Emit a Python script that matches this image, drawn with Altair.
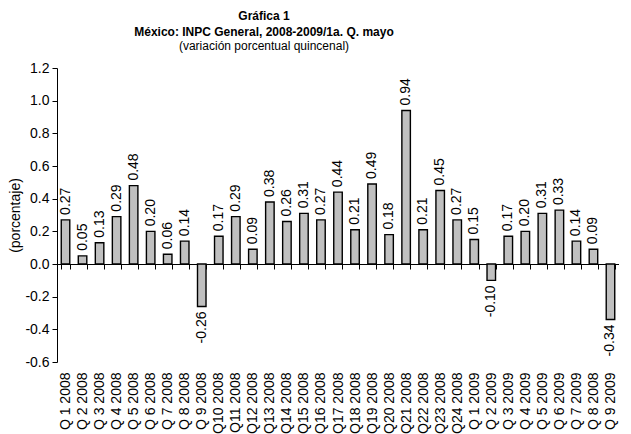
import json
import altair as alt
import pandas as pd

labels = ["Q 1 2008", "Q 2 2008", "Q 3 2008", "Q 4 2008", "Q 5 2008", "Q 6 2008",
          "Q 7 2008", "Q 8 2008", "Q 9 2008", "Q10 2008", "Q11 2008", "Q12 2008",
          "Q13 2008", "Q14 2008", "Q15 2008", "Q16 2008", "Q17 2008", "Q18 2008",
          "Q19 2008", "Q20 2008", "Q21 2008", "Q22 2008", "Q23 2008", "Q24 2008",
          "Q 1 2009", "Q 2 2009", "Q 3 2009", "Q 4 2009", "Q 5 2009", "Q 6 2009",
          "Q 7 2009", "Q 8 2008", "Q 9 2009"]
values = [0.27, 0.05, 0.13, 0.29, 0.48, 0.20, 0.06, 0.14, -0.26, 0.17, 0.29, 0.09,
          0.38, 0.26, 0.31, 0.27, 0.44, 0.21, 0.49, 0.18, 0.94, 0.21, 0.45, 0.27,
          0.15, -0.10, 0.17, 0.20, 0.31, 0.33, 0.14, 0.09, -0.34]
y_ticks = [-0.6, -0.4, -0.2, 0.0, 0.2, 0.4, 0.6, 0.8, 1.0, 1.2]

df = pd.DataFrame({"idx": list(range(len(values))), "v": values})

FONT = "Liberation Sans"
W, H = 562, 294
zero_off = H * 0.6 / 1.8

x_enc = alt.X(
    "idx:O",
    scale=alt.Scale(paddingInner=0.5, paddingOuter=0.25),
    axis=alt.Axis(
        title=None,
        labelExpr=json.dumps(labels) + "[datum.value]",
        labelAngle=-90,
        labelAlign="right",
        labelBaseline="middle",
        labelFont=FONT,
        labelFontSize=14,
        labelColor="black",
        labelPadding=zero_off + 5,
        offset=-zero_off,
        domainColor="black",
        tickColor="black",
        tickBand="extent",
        tickSize=5,
        grid=False,
    ),
)
y_enc = alt.Y(
    "v:Q",
    scale=alt.Scale(domain=[-0.6, 1.2], nice=False, zero=False),
    axis=alt.Axis(
        title="(porcentaje)",
        titleFont=FONT,
        titleFontSize=14,
        titleFontWeight="normal",
        titleColor="black",
        titlePadding=2,
        values=y_ticks,
        format=".1f",
        labelExpr="replace(datum.label, '\u2212', '-')",
        labelFont=FONT,
        labelFontSize=14,
        labelColor="black",
        labelPadding=3,
        tickSize=5,
        tickColor="black",
        domainColor="black",
        grid=False,
    ),
)

base = alt.Chart(df).encode(x=x_enc, y=y_enc).transform_calculate(
    lbl="replace(format(datum.v, '.2f'), '\u2212', '-')"
)

bars = base.mark_bar(color="#c0c0c0", stroke="black", strokeWidth=1.4)

pos_text = base.transform_filter("datum.v >= 0").mark_text(
    angle=270, align="left", baseline="middle", dx=5, font=FONT, fontSize=14, color="black"
).encode(text="lbl:N")

neg_text = base.transform_filter("datum.v < 0").mark_text(
    angle=270, align="right", baseline="middle", dx=-5, font=FONT, fontSize=14, color="black"
).encode(text="lbl:N")

chart = alt.layer(bars, pos_text, neg_text).properties(
    width=W,
    height=H,
    padding={"left": 0, "top": 2, "right": 0, "bottom": 0},
    title=alt.TitleParams(
        text=["Gráfica 1", "México: INPC General, 2008-2009/1a. Q. mayo"],
        subtitle="(variación porcentual quincenal)",
        font=FONT,
        fontSize=12,
        fontWeight="bold",
        color="black",
        lineHeight=16,
        subtitleFont=FONT,
        subtitleFontSize=12,
        subtitleColor="black",
        subtitlePadding=2,
        anchor="middle",
        dx=-74,
        offset=8,
    ),
).configure_view(stroke=None)

chart.save("out.html", embed_options={"renderer": "svg", "actions": False})
